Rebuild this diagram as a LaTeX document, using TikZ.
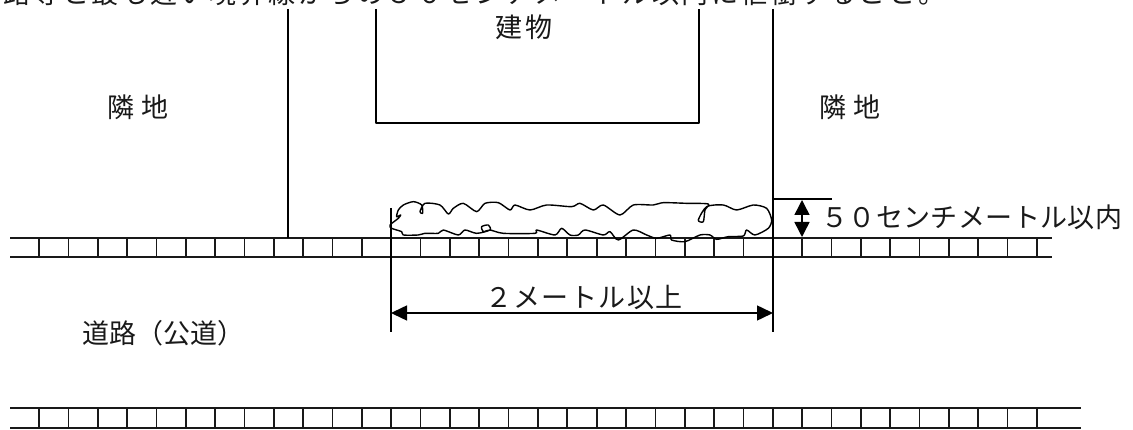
\documentclass[tikz,border=0pt]{standalone}
\usepackage{fontspec}
\usetikzlibrary{arrows.meta}
\setmainfont{Noto Sans CJK JP}
\newfontfamily\jpwide[LetterSpace=9.3]{Noto Sans CJK JP}
\newfontfamily\jpmid[LetterSpace=5.5]{Noto Sans CJK JP}
\newfontfamily\jpnarrow[LetterSpace=1.5]{Noto Sans CJK JP}
\tikzset{
  wall/.style={draw=black,line width=1.8pt},
  thinwall/.style={draw=black,line width=1.6pt},
  road/.style={draw=black!90,line width=1.7pt},
  label/.style={inner sep=0pt,text=black!90},
  dim/.style={draw=black,line width=1.5pt,{Triangle[length=16pt,width=15pt]}-{Triangle[length=16pt,width=15pt]}},
  blob/.style={draw=black,line width=1.4pt,line join=round}
}
\begin{document}
\begin{tikzpicture}[x=1pt,y=-1pt]
\clip (0,0) rectangle (1133,430);
\fill[white] (0,0) rectangle (1133,430);
% texts
\node[label,anchor=base west,font=\fontsize{27}{27}\jpwide] (toptext) at (3,4) {路等と最も近い境界線からの５０センチメートル以内に植樹すること。};
\node[label,font=\fontsize{27}{27}\selectfont] (bldg) at (524,27) {建\kern2.5pt 物};
\node[label,font=\fontsize{27}{27}\selectfont] (nbL) at (138,107) {隣\kern7pt 地};
\node[label,font=\fontsize{27}{27}\selectfont] (nbR) at (850,107) {隣\kern7pt 地};
\node[label,font=\fontsize{27}{27}\jpmid] (dimA) at (584,297) {２メートル以上};
\node[label,anchor=west,font=\fontsize{27}{27}\jpnarrow] (dimB) at (821,217) {５０センチメートル以内};
\node[label,font=\fontsize{27}{27}\selectfont] (rd) at (163,333) {道路（公道）};
% coordinates
\coordinate (bL) at (288,9);   \coordinate (bLe) at (288,238);
\coordinate (bR) at (773,9);   \coordinate (bRe) at (773,332);
\coordinate (hA) at (376,9);   \coordinate (hB) at (376,123);
\coordinate (hC) at (699,123); \coordinate (hD) at (699,9);
\coordinate (eL) at (391,208); \coordinate (eLe) at (391,332);
\coordinate (dA) at (391,313); \coordinate (dB) at (773,313);
\coordinate (tA) at (773,199); \coordinate (tB) at (832,199);
\coordinate (aA) at (802,200); \coordinate (aB) at (802,237);
\coordinate (r1a) at (10,238); \coordinate (r1b) at (1052,238);
\coordinate (r2a) at (10,257); \coordinate (r2b) at (1052,257);
\coordinate (r3a) at (10,408); \coordinate (r3b) at (1081,408);
\coordinate (r4a) at (10,428); \coordinate (r4b) at (1081,428);
% roads
\draw[road] (r1a) -- (r1b);
\draw[road] (r2a) -- (r2b);
\draw[road] (r3a) -- (r3b);
\draw[road] (r4a) -- (r4b);
\foreach \k in {0,...,34}{
  \draw[road] ({39+29.35*\k},238) -- ({39+29.35*\k},257);
  \draw[road] ({39+29.35*\k},408) -- ({39+29.35*\k},428);
}
% boundaries and building
\draw[wall] (bL) -- (bLe);
\draw[wall] (bR) -- (bRe);
\draw[thinwall,line join=round] (hA) -- (hB) -- (hC) -- (hD);
\draw[thinwall] (eL) -- (eLe);
\draw[thinwall] (tA) -- (tB);
\draw[dim] (dA) -- (dB);
\draw[dim,{Triangle[length=15pt,width=15pt]}-{Triangle[length=15pt,width=15pt]}] (aA) -- (aB);
% hand-drawn hedge
\begin{scope}[shift={(370,200)},x=0.3333pt,y=-0.3333pt]
\draw[blob] plot[smooth cycle,tension=0.45] coordinates {
(60,75)(85,55)(92,45)(80,50)(85,30)(100,15)(130,5)(155,15)(158,40)(150,35)(165,10)(210,15)(235,42)(250,25)(280,10)(320,35)(345,10)(385,8)(420,30)(435,15)(480,30)(530,15)(605,20)(630,10)(670,30)(700,15)(750,45)(790,15)(850,15)(880,8)(950,10)(1015,12)(1005,30)(1000,65)(985,60)(1010,20)(1060,15)(1100,30)(1150,15)(1190,25)(1205,60)(1195,85)(1155,105)(1130,90)(1120,108)(1075,110)(1040,118)(1020,105)(990,105)(945,125)(905,120)(900,105)(860,115)(830,105)(790,90)(745,120)(720,95)(700,105)(645,90)(625,105)(600,105)(575,85)(555,105)(500,90)(495,100)(400,100)(360,90)(340,95)(335,80)(355,75)(360,90)(320,100)(285,90)(265,105)(220,90)(205,100)(165,100)(145,105)(100,105)(95,95)(65,85)};
\end{scope}
\end{tikzpicture}
\end{document}
